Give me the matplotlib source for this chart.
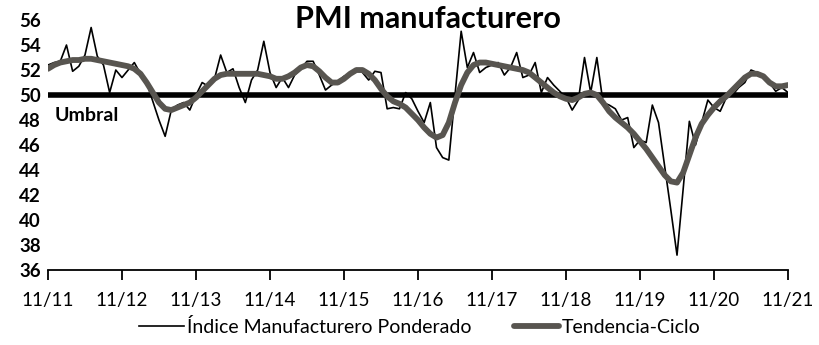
import numpy as np
import matplotlib
matplotlib.use('Agg')
import matplotlib.pyplot as plt

plt.rcParams['font.family'] = ['Lato', 'DejaVu Sans']

# monthly data, nov 2011 .. nov 2021
indice = [
    52.4, 52.6, 52.7, 54.0, 51.9, 52.3, 53.2, 55.4, 53.1, 52.4,
    50.2, 52.0, 51.4, 52.0, 52.6, 51.7, 51.0, 49.5, 48.0, 46.7,
    48.8, 49.2, 49.4, 48.8, 50.0, 51.0, 50.7, 51.3, 53.2, 51.8,
    52.1, 50.6, 49.4, 51.2, 52.0, 54.3, 51.8, 50.6, 51.4, 50.6,
    51.6, 52.1, 52.7, 52.7, 51.6, 50.4, 50.8, 51.1, 51.5, 51.6,
    52.1, 51.8, 51.2, 51.9, 51.8, 48.9, 49.0, 48.9, 50.2, 49.7,
    48.7, 47.8, 49.4, 45.8, 45.0, 44.8, 50.0, 55.1, 52.2, 53.4,
    51.8, 52.2, 52.4, 52.6, 51.6, 52.2, 53.4, 51.4, 51.6, 52.6,
    50.2, 51.4, 50.8, 50.3, 49.8, 48.8, 49.6, 53.0, 50.2, 53.0,
    49.4, 49.2, 48.9, 48.0, 48.2, 45.8, 46.4, 46.2, 49.2, 47.8,
    44.3, 40.8, 37.2, 42.5, 47.9, 46.0, 47.8, 49.6, 49.0, 48.7,
    49.8, 50.0, 50.6, 51.0, 52.0, 51.8, 51.6, 51.0, 50.3, 50.6,
    50.2,
]
tendencia = [
    52.1, 52.4, 52.6, 52.7, 52.8, 52.8, 52.9, 52.9, 52.8, 52.7,
    52.6, 52.5, 52.4, 52.3, 52.1, 51.7, 51.0, 50.2, 49.4, 48.9,
    48.8, 49.0, 49.2, 49.4, 49.8, 50.3, 50.8, 51.3, 51.6, 51.7,
    51.7, 51.7, 51.7, 51.7, 51.7, 51.6, 51.5, 51.3, 51.3, 51.5,
    51.8, 52.2, 52.4, 52.3, 51.9, 51.4, 51.0, 51.0, 51.3, 51.7,
    52.0, 52.0, 51.7, 51.2, 50.5, 49.9, 49.5, 49.3, 49.0, 48.5,
    48.0, 47.4, 46.9, 46.6, 46.8, 47.8, 49.4, 50.8, 51.8, 52.4,
    52.6, 52.6, 52.5, 52.4, 52.3, 52.2, 52.1, 52.0, 51.8, 51.4,
    51.0, 50.6, 50.2, 49.9, 49.7, 49.6, 49.8, 50.1, 50.2, 50.0,
    49.4, 48.7, 48.2, 47.8, 47.4, 46.9, 46.3, 45.7, 45.0, 44.3,
    43.6, 43.1, 43.0, 43.8, 45.2, 46.6, 47.7, 48.4, 49.0, 49.5,
    49.9, 50.4, 50.9, 51.4, 51.7, 51.7, 51.5, 51.0, 50.7, 50.7,
    50.8,
]
tick_labels = ['11/11', '11/12', '11/13', '11/14', '11/15', '11/16',
               '11/17', '11/18', '11/19', '11/20', '11/21']
umbral = 50

x = np.arange(len(indice))

fig = plt.figure(figsize=(8.2, 3.45), dpi=100)
ax = fig.add_axes([0.0585, 0.217, 0.9025, 0.725])

ax.axhline(umbral, color='k', linewidth=4, zorder=1)
ax.plot(x, indice, color='k', linewidth=1.2, zorder=2,
        label='Índice Manufacturero Ponderado')
ax.plot(x, tendencia, color='#585550', linewidth=4.2, zorder=3,
        solid_capstyle='round', label='Tendencia-Ciclo')

ax.set_xlim(0, len(indice) - 1)
ax.set_ylim(36, 56)
ax.set_yticks(np.arange(36, 57, 2))
ax.set_xticks(np.arange(0, len(indice), 12))
ax.set_xticklabels(tick_labels)

for side in ['top', 'right', 'left']:
    ax.spines[side].set_visible(False)
ax.spines['bottom'].set_linewidth(1.3)
ax.tick_params(axis='y', length=0, labelsize=13.5, pad=5)
for lab in ax.get_yticklabels():
    lab.set_fontweight('bold')
ax.tick_params(axis='x', direction='out', length=7, width=1.3,
               labelsize=13.5, pad=9)

ax.text(1.0, 48.4, 'Umbral', fontsize=14, fontweight='bold',
        va='center', ha='left')
fig.text(0.522, 0.945, 'PMI manufacturero', fontsize=22,
         fontweight='bold', ha='center', va='center')

fig.legend(loc='lower center', bbox_to_anchor=(0.512, -0.025), ncol=2,
           frameon=False, fontsize=14, handlelength=2.3,
           columnspacing=2.2, handletextpad=0.15)

fig.savefig('out.png', dpi=100)
